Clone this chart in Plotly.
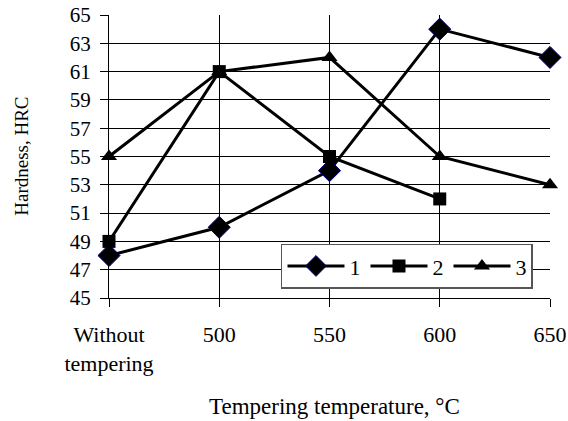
import plotly.graph_objects as go

categories = ["Without<br>tempering", "500", "550", "600", "650"]
series1 = [48, 50, 54, 64, 62]
series2 = [49, 61, 55, 52, None]
series3 = [55, 61, 62, 55, 53]
names = ["1", "2", "3"]
y_ticks = list(range(45, 66, 2))

xpos = list(range(len(categories)))
FONT = "Liberation Serif, Times New Roman, serif"

fig = go.Figure()
fig.add_trace(go.Scatter(x=xpos, y=series1, name=names[0], mode="lines+markers",
                         line=dict(color="black", width=3),
                         marker=dict(symbol="diamond", size=17, color="black",
                                     line=dict(color="#000080", width=1)),
                         cliponaxis=False))
fig.add_trace(go.Scatter(x=xpos, y=series2, name=names[1], mode="lines+markers",
                         line=dict(color="black", width=3),
                         marker=dict(symbol="square", size=13, color="black"),
                         cliponaxis=False))
fig.add_trace(go.Scatter(x=xpos, y=series3, name=names[2], mode="lines+markers",
                         line=dict(color="black", width=3),
                         marker=dict(symbol="triangle-up", size=14, color="black"),
                         cliponaxis=False))

fig.update_layout(
    width=568, height=421,
    margin=dict(l=109, r=18, t=15, b=123),
    paper_bgcolor="white", plot_bgcolor="white",
    font=dict(family=FONT, size=20, color="black"),
    showlegend=True,
    legend=dict(orientation="h", x=0.39, y=0.192, xanchor="left", yanchor="top",
                bgcolor="white", bordercolor="#555555", borderwidth=1.5,
                font=dict(size=22), itemwidth=57, tracegroupgap=0),
    xaxis=dict(range=[0, 4], tickvals=xpos, ticktext=categories,
               showgrid=True, gridcolor="black", gridwidth=1,
               showline=True, linecolor="black", linewidth=1,
               ticks="outside", ticklen=8, tickcolor="black",
               tickfont=dict(size=22), ticklabelstandoff=9,
               zeroline=False, automargin=False),
    yaxis=dict(range=[45, 65], tickvals=y_ticks,
               showgrid=True, gridcolor="black", gridwidth=1,
               showline=True, linecolor="black", linewidth=1,
               ticks="outside", ticklen=8, tickcolor="black",
               tickfont=dict(size=21), ticklabelstandoff=5,
               zeroline=False, automargin=False),
    annotations=[
        dict(text="Hardness, HRC", textangle=-90, xref="paper", yref="paper",
             x=-0.199, y=0.5, xanchor="center", yanchor="middle", showarrow=False,
             font=dict(size=19)),
        dict(text="Tempering temperature, °C", xref="paper", yref="paper",
             x=0.511, y=-0.385, xanchor="center", yanchor="middle", showarrow=False,
             font=dict(size=23)),
    ],
)

fig.write_html("out.html", config={"displayModeBar": False},
               post_script="document.body.style.margin='0';document.body.style.overflow='hidden';")
